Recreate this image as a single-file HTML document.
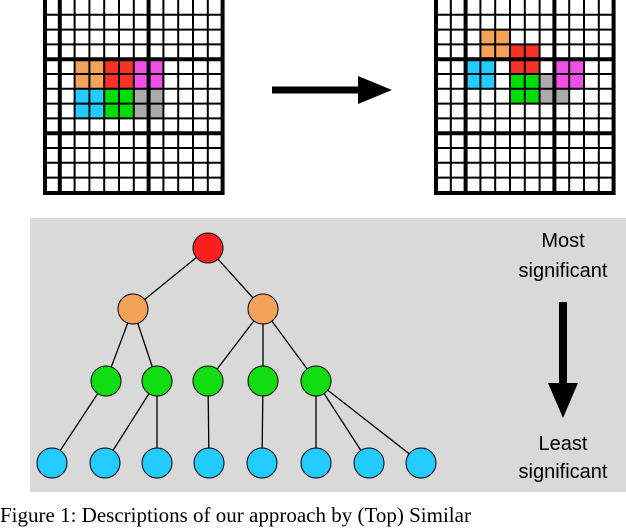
<!DOCTYPE html>
<html><head><style>
body{margin:0;width:626px;height:520px;overflow:hidden;background:#fff;position:relative;font-family:"Liberation Sans",sans-serif}
.cap{position:absolute;left:0;top:503px;font-family:"Liberation Serif",serif;font-size:21px;white-space:nowrap;color:#000}
</style></head><body>
<svg width="626" height="520" style="position:absolute;left:0;top:0">
<defs>
<g id="thin" stroke="#000" stroke-width="2" fill="none">
<path d="M0 14.8H177.6M0 29.6H177.6M0 44.4H177.6M0 59.2H177.6M0 74H177.6M0 88.8H177.6M0 103.6H177.6M0 118.4H177.6M0 133.2H177.6M0 148H177.6M0 162.8H177.6M0 177.6H177.6"/>
<path d="M14.8 0V193M29.6 0V193M44.4 0V193M59.2 0V193M74 0V193M88.8 0V193M103.6 0V193M118.4 0V193M133.2 0V193M148 0V193M162.8 0V193"/>
<path d="M0 59.2H177.6M0 133.2H177.6" stroke-width="4"/>
<rect x="0" y="-2" width="177.6" height="195" stroke-width="4"/>
</g>
</defs>
<!-- left -->
<g transform="translate(45,0)">
<rect x="29.6" y="59.2" width="29.6" height="29.6" fill="#f4a259"/>
<rect x="59.2" y="59.2" width="29.6" height="29.6" fill="#f83224"/>
<rect x="88.8" y="59.2" width="29.6" height="29.6" fill="#f050e6"/>
<rect x="29.6" y="88.8" width="29.6" height="29.6" fill="#22ccff"/>
<rect x="59.2" y="88.8" width="29.6" height="29.6" fill="#00dd00"/>
<rect x="88.8" y="88.8" width="29.6" height="29.6" fill="#aaaaaa"/>
<use href="#thin"/>
<path d="M14.8 0V193M103.6 0V193" stroke="#000" stroke-width="4"/>
</g>
<!-- right -->
<g transform="translate(436,0)">
<rect x="44.4" y="29.6" width="29.6" height="29.6" fill="#f4a259"/>
<rect x="74" y="44.4" width="29.6" height="29.6" fill="#f83224"/>
<rect x="29.6" y="59.2" width="29.6" height="29.6" fill="#22ccff"/>
<rect x="118.4" y="59.2" width="29.6" height="29.6" fill="#f050e6"/>
<rect x="74" y="74" width="29.6" height="29.6" fill="#00dd00"/>
<rect x="103.6" y="74" width="14.8" height="29.6" fill="#aaaaaa"/>
<rect x="103.6" y="88.8" width="29.6" height="14.8" fill="#aaaaaa"/>
<use href="#thin"/>
<path d="M29.6 0V193M118.4 0V193" stroke="#000" stroke-width="4"/>
</g>
<!-- arrow -->
<path d="M272 90H362" stroke="#000" stroke-width="7"/>
<polygon points="358,76 392,90 358,104" fill="#000"/>
<!-- panel -->
<rect x="30" y="218" width="596" height="274" fill="#d9d9d9"/>
<g stroke="#000" stroke-width="1.3">
<path d="M208 248L133 309M208 248L263 309M133 309L106 381M133 309L157 381M263 309L208 381M263 309L263 381M263 309L316 381M106 381L52 463M157 381L105 463M157 381L157 463M208 381L209 463M263 381L262 463M316 381L316 463M316 381L369 463M316 381L421 463"/>
</g>
<g stroke="#000" stroke-width="1">
<circle cx="208" cy="248" r="15" fill="#f82020"/>
<circle cx="133" cy="309" r="15" fill="#f4a259"/>
<circle cx="263" cy="309" r="15" fill="#f4a259"/>
<g fill="#11dd11">
<circle cx="106" cy="381" r="15"/><circle cx="157" cy="381" r="15"/><circle cx="208" cy="381" r="15"/><circle cx="263" cy="381" r="15"/><circle cx="316" cy="381" r="15"/>
</g>
<g fill="#22ccff">
<circle cx="52" cy="463" r="15"/><circle cx="105" cy="463" r="15"/><circle cx="157" cy="463" r="15"/><circle cx="209" cy="463" r="15"/><circle cx="262" cy="463" r="15"/><circle cx="316" cy="463" r="15"/><circle cx="369" cy="463" r="15"/><circle cx="421" cy="463" r="15"/>
</g>
</g>
<g font-family="Liberation Sans, sans-serif" font-size="20" text-anchor="middle" fill="#000">
<text x="563" y="247">Most</text>
<text x="563" y="277">significant</text>
<text x="563" y="450">Least</text>
<text x="563" y="478">significant</text>
</g>
<path d="M563 302V385" stroke="#000" stroke-width="8"/>
<polygon points="548,383 578,383 563,418" fill="#000"/>
</svg>
<div class="cap">Figure 1: Descriptions of our approach by (Top) Similar</div>
</body></html>
